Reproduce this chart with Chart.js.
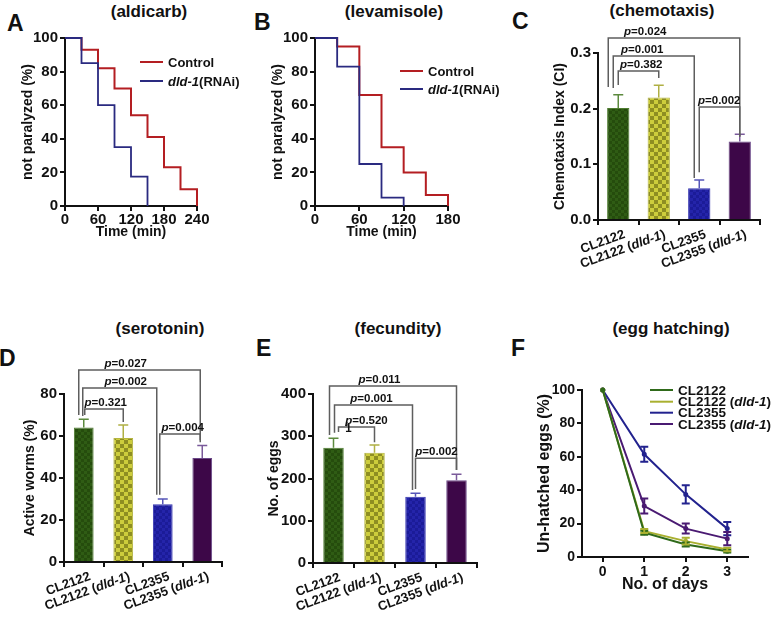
<!DOCTYPE html>
<html>
<head>
<meta charset="utf-8">
<script src="https://cdn.jsdelivr.net/npm/chart.js@4.4.1/dist/chart.umd.min.js"></script>
<style>
  body { margin: 0; background: #fff; width: 774px; height: 623px; position: relative; overflow: hidden;
         font-family: "Liberation Sans", Arial, sans-serif; }
  canvas { position: absolute; }
  .lbl { position: absolute; font-weight: bold; color: #111; white-space: nowrap; }
  .letter { font-size: 23px; line-height: 23px; }
  .ttl { font-size: 17px; line-height: 17px; transform: translateX(-50%); }
</style>
</head>
<body>
<div class="lbl letter" style="left:7px;top:12px">A</div>
<div class="lbl letter" style="left:254px;top:11px">B</div>
<div class="lbl letter" style="left:512px;top:10px">C</div>
<div class="lbl letter" style="left:-1px;top:347px">D</div>
<div class="lbl letter" style="left:256px;top:337px">E</div>
<div class="lbl letter" style="left:511px;top:337px">F</div>

<div class="lbl ttl" style="left:149px;top:3px">(aldicarb)</div>
<div class="lbl ttl" style="left:394px;top:3px">(levamisole)</div>
<div class="lbl ttl" style="left:662px;top:2px">(chemotaxis)</div>
<div class="lbl ttl" style="left:160px;top:320px">(serotonin)</div>
<div class="lbl ttl" style="left:398px;top:320px">(fecundity)</div>
<div class="lbl ttl" style="left:671px;top:320px">(egg hatching)</div>

<canvas id="chartA" width="250" height="250" style="left:0;top:0"></canvas>
<canvas id="chartB" width="250" height="250" style="left:250px;top:0"></canvas>
<canvas id="chartC" width="264" height="295" style="left:510px;top:0"></canvas>
<canvas id="chartD" width="250" height="323" style="left:0;top:300px"></canvas>
<canvas id="chartE" width="270" height="323" style="left:250px;top:300px"></canvas>
<canvas id="chartF" width="264" height="300" style="left:510px;top:300px"></canvas>

<script>
// paralysis curves (percent not paralyzed vs time in min)
const aldicarbTime = [0, 30, 60, 90, 120, 150, 180, 210, 240];
const aldicarbControl = [100, 93, 82, 70, 54, 41, 23, 10, 0];
const aldicarbRnaiTime = [0, 30, 60, 90, 120, 150];
const aldicarbRnai = [100, 85, 60, 35, 17.5, 0];
const levTime = [0, 30, 60, 90, 120, 150, 180];
const levControl = [100, 95, 66, 35, 20, 6.5, 0];
const levRnaiTime = [0, 30, 60, 90, 120];
const levRnai = [100, 83, 25, 5, 0];

// bar panels
const strains = ['CL2122', 'CL2122 (dld-1)', 'CL2355', 'CL2355 (dld-1)'];
const chemoMean = [0.201, 0.220, 0.057, 0.141];
const chemoErr = [0.024, 0.022, 0.015, 0.013];
const chemoP = ['0.024', '0.001', '0.382', '0.002'];
const seroMean = [64, 59, 27.5, 49.5];
const seroErr = [4, 6.2, 2.5, 6];
const seroP = ['0.027', '0.002', '0.321', '0.004'];
const eggMean = [273, 261, 157, 196];
const eggErr = [22, 18, 8, 14];
const eggP = ['0.011', '0.001', '0.520', '0.002'];

// egg hatching
const hatchDays = [0, 1, 2, 3];
const hatchCL2122 = [100, 14.5, 7.5, 3.5];
const hatchCL2122dld = [100, 15.5, 9.5, 4.5];
const hatchCL2355 = [100, 61.5, 37.5, 17];
const hatchCL2355dld = [100, 30.5, 17, 11];
const errCL2122 = [0, 1.2, 1.2, 0.8];
const errCL2122dld = [0, 1.2, 2, 1];
const errCL2355 = [0, 4.5, 5.5, 4];
const errCL2355dld = [0, 4.5, 3, 4];

const FONT = '"Liberation Sans", Arial, sans-serif';
Chart.defaults.font.family = FONT;
Chart.defaults.color = '#111';
Chart.defaults.animation = false;
Chart.defaults.responsive = false;
Chart.defaults.plugins.legend.display = false;
Chart.defaults.plugins.tooltip.enabled = false;

// draw text made of bold / bold-italic pieces
function richText(ctx, parts, x, y, size, align) {
    const fonts = parts.map(p => (p[1] ? 'italic ' : '') + 'bold ' + size + 'px ' + FONT);
    let total = 0;
    const widths = parts.map((p, i) => {
        ctx.font = fonts[i];
        const w = ctx.measureText(p[0]).width;
        total += w;
        return w;
    });
    let cx = align === 'right' ? x - total : align === 'center' ? x - total / 2 : x;
    ctx.textAlign = 'left';
    parts.forEach((p, i) => {
        ctx.font = fonts[i];
        ctx.fillText(p[0], cx, y);
        cx += widths[i];
    });
}

function splitDld(s) {
    const k = s.indexOf('dld-1');
    if (k < 0) return [[s, false]];
    return [[s.slice(0, k), false], ['dld-1', true], [s.slice(k + 5), false]];
}

function axis(o) {
    return {
        type: o.type || 'linear',
        min: o.min, max: o.max,
        z: 1,
        border: { color: '#111', width: 2 },
        grid: { display: true, drawOnChartArea: false, drawTicks: true, tickLength: 5, color: '#111', lineWidth: 2 },
        ticks: {
            font: { size: o.tickSize || 15, weight: 'bold' },
            color: o.hideLabels ? 'rgba(0,0,0,0)' : '#111',
            stepSize: o.step, padding: o.tickPad === undefined ? 2 : o.tickPad,
            maxRotation: 0, minRotation: 0, autoSkip: false,
            callback: o.fmt
        },
        title: {
            display: !!o.title, text: o.title, color: '#111',
            font: { size: o.titleSize || 14, weight: 'bold' },
            padding: o.titlePad || 0
        },
        afterBuildTicks: o.tickValues ? s => { s.ticks = o.tickValues.map(v => ({ value: v })); } : undefined,
        afterFit: s => { if (s.isHorizontal()) s.height = o.size; else s.width = o.size; }
    };
}

function drawLegend(ctx, items, x0, ys, lineLen, size) {
    items.forEach((it, i) => {
        const y = ys[i];
        ctx.strokeStyle = it.color;
        ctx.lineWidth = 2;
        ctx.beginPath();
        ctx.moveTo(x0, y);
        ctx.lineTo(x0 + lineLen, y);
        ctx.stroke();
        ctx.fillStyle = '#111';
        ctx.textBaseline = 'middle';
        richText(ctx, it.parts, x0 + lineLen + 5, y + 1, size, 'left');
    });
}

// ---------- A / B: step curves ----------
const RED = '#b41e22';
const NAVY = '#2a2a80';

function stepPanel(id, tC, vC, tR, vR, xMax, right, legendX, legendY) {
    new Chart(document.getElementById(id), {
        type: 'line',
        data: {
            datasets: [
                { data: tR.map((t, i) => ({ x: t, y: vR[i] })), borderColor: NAVY, borderWidth: 1.8, stepped: true, pointRadius: 0, clip: 4 },
                { data: tC.map((t, i) => ({ x: t, y: vC[i] })), borderColor: RED, borderWidth: 2, stepped: true, pointRadius: 0, clip: 4 }
            ]
        },
        options: {
            layout: { padding: { left: 0, top: 38, right: right, bottom: 0 } },
            scales: {
                x: axis({ min: 0, max: xMax, step: 60, size: 44, tickPad: 0, title: 'Time (min)', titlePad: { top: 0, bottom: 9.6 } }),
                y: axis({ min: 0, max: 100, step: 20, size: 65, title: 'not paralyzed (%)', titlePad: { top: 19.6, bottom: 0 } })
            }
        },
        plugins: [{
            id: 'legendAB',
            afterDraw(chart) {
                drawLegend(chart.ctx, [
                    { color: RED, parts: [['Control', false]] },
                    { color: NAVY, parts: splitDld('dld-1(RNAi)') }
                ], legendX, legendY, 23, 13);
            }
        }]
    });
}

stepPanel('chartA', aldicarbTime, aldicarbControl, aldicarbRnaiTime, aldicarbRnai, 240, 53, 140, [62, 81]);
stepPanel('chartB', levTime, levControl, levRnaiTime, levRnai, 180, 52, 150, [71, 89]);

// ---------- C / D / E: bar panels ----------
function checker(base, dot, cell) {
    const c = document.createElement('canvas');
    c.width = c.height = cell * 2;
    const g = c.getContext('2d');
    g.fillStyle = base;
    g.fillRect(0, 0, cell * 2, cell * 2);
    g.fillStyle = dot;
    g.fillRect(0, 0, cell, cell);
    g.fillRect(cell, cell, cell, cell);
    return g.createPattern(c, 'repeat');
}

const barFills = [
    checker('#2f5c14', '#254c0d', 3),
    checker('#cdcd3c', '#8e8e22', 4),
    checker('#1b1b98', '#2424aa', 3),
    '#3d0748'
];
const barEdges = ['#4f7d30', '#b5b540', '#3434b0', '#6a4888'];
const errColors = ['#5c8a3e', '#b0b044', '#5656b8', '#7a5a9a'];

function drawBarErrors(chart, means, errs) {
    const { ctx } = chart;
    const xs = chart.scales.x, ys = chart.scales.y;
    ctx.save();
    ctx.lineWidth = 1.5;
    means.forEach((m, i) => {
        const x = xs.getPixelForValue(i);
        const y0 = ys.getPixelForValue(m), y1 = ys.getPixelForValue(m + errs[i]);
        ctx.strokeStyle = errColors[i];
        ctx.beginPath();
        ctx.moveTo(x, y0);
        ctx.lineTo(x, y1);
        ctx.moveTo(x - 5, y1);
        ctx.lineTo(x + 5, y1);
        ctx.stroke();
    });
    ctx.restore();
}

function drawBrackets(chart, list, pVals) {
    const { ctx } = chart;
    const xs = chart.scales.x, ys = chart.scales.y;
    ctx.save();
    ctx.strokeStyle = '#5e5e5e';
    ctx.lineWidth = 1.5;
    list.forEach((b, i) => {
        const xa = xs.getPixelForValue(b.a) + b.da, xb = xs.getPixelForValue(b.b) + b.db;
        const yl = ys.getPixelForValue(b.level);
        ctx.beginPath();
        ctx.moveTo(xa, ys.getPixelForValue(b.legA));
        ctx.lineTo(xa, yl);
        ctx.lineTo(xb, yl);
        ctx.lineTo(xb, ys.getPixelForValue(b.legB));
        ctx.stroke();
        ctx.fillStyle = '#111';
        ctx.textBaseline = 'alphabetic';
        richText(ctx, [['p', true], ['=' + pVals[i], false]], xa + b.tx, yl - 3, 11.5, 'center');
        if (b.extra) richText(ctx, [[b.extra, false]], xa + 10, yl + 5, 11.5, 'center');
    });
    ctx.restore();
}

function drawRotatedLabels(chart) {
    const { ctx, chartArea } = chart;
    const xs = chart.scales.x;
    ctx.save();
    ctx.fillStyle = '#111';
    strains.forEach((s, i) => {
        ctx.save();
        ctx.translate(xs.getPixelForValue(i) + 4, chartArea.bottom + 8);
        ctx.rotate(-20 * Math.PI / 180);
        ctx.textBaseline = 'top';
        richText(ctx, splitDld(s), 0, 0, 13, 'right');
        ctx.restore();
    });
    ctx.restore();
}

function barPanel(id, means, errs, pVals, brackets, cfg) {
    new Chart(document.getElementById(id), {
        type: 'bar',
        data: {
            labels: strains,
            datasets: [{
                data: means, backgroundColor: barFills, borderColor: barEdges, borderWidth: 1,
                barPercentage: cfg.barPct, categoryPercentage: 1
            }]
        },
        options: {
            layout: { padding: { left: 0, top: cfg.top, right: cfg.right, bottom: 0 } },
            scales: {
                x: axis({ type: 'category', size: cfg.xSize, hideLabels: true, tickSize: 13 }),
                y: axis({
                    min: 0, max: cfg.yMax, step: cfg.yStep, size: cfg.ySize, fmt: cfg.fmt,
                    title: cfg.title, titlePad: { top: cfg.titlePad, bottom: 0 }
                })
            }
        },
        plugins: [{
            id: 'barExtras',
            afterDraw(chart) {
                drawBarErrors(chart, means, errs);
                drawBrackets(chart, brackets, pVals);
                drawRotatedLabels(chart);
            }
        }]
    });
}

barPanel('chartC', chemoMean, chemoErr, chemoP, [
    { a: 0, b: 3, da: -10, db: 0, level: 0.327, legA: 0.239, legB: 0.149, tx: 37 },
    { a: 0, b: 2, da: -5, db: -5, level: 0.2946, legA: 0.237, legB: 0.0754, tx: 29 },
    { a: 0, b: 1, da: 0, db: 0, level: 0.2677, legA: 0.2425, legB: 0.255, tx: 23 },
    { a: 2, b: 3, da: 0, db: 0, level: 0.203, legA: 0.086, legB: 0.151, tx: 20 }
], { top: 53, right: 14, xSize: 75, ySize: 88, yMax: 0.3, yStep: 0.1, fmt: v => v.toFixed(1),
     title: 'Chemotaxis Index (CI)', titlePad: 41.6, barPct: 0.55 });

barPanel('chartD', seroMean, seroErr, seroP, [
    { a: 0, b: 3, da: -5, db: -2, level: 91.4, legA: 70, legB: 58, tx: 47 },
    { a: 0, b: 2, da: -1, db: -6, level: 82.9, legA: 69.5, legB: 32, tx: 43 },
    { a: 0, b: 1, da: 1, db: 0, level: 72.9, legA: 70, legB: 66.7, tx: 21 },
    { a: 2, b: 3, da: -3, db: -2, level: 61, legA: 32, legB: 57, tx: 23 }
], { top: 94, right: 28, xSize: 61, ySize: 64, yMax: 80, yStep: 20,
     title: 'Active worms (%)', titlePad: 22, barPct: 0.5 });

barPanel('chartE', eggMean, eggErr, eggP, [
    { a: 0, b: 3, da: -4, db: 0, level: 419, legA: 303, legB: 220, tx: 50 },
    { a: 0, b: 2, da: 1, db: -3, level: 374, legA: 308, legB: 173, tx: 37 },
    { a: 0, b: 1, da: 5, db: 0, level: 322, legA: 310, legB: 286, tx: 28, extra: '1' },
    { a: 2, b: 3, da: 0, db: 0, level: 248, legA: 175, legB: 220, tx: 21 }
], { top: 94, right: 43, xSize: 60, ySize: 63, yMax: 400, yStep: 100,
     title: 'No. of eggs', titlePad: 15.6, barPct: 0.5 });

// ---------- F: egg hatching ----------
const hatchColors = ['#2f6a1a', '#a9b030', '#22228e', '#4a1a72'];
const hatchSeries = [hatchCL2122, hatchCL2122dld, hatchCL2355, hatchCL2355dld];
const hatchErrs = [errCL2122, errCL2122dld, errCL2355, errCL2355dld];

new Chart(document.getElementById('chartF'), {
    type: 'line',
    data: {
        datasets: hatchSeries.map((s, k) => ({
            data: hatchDays.map((d, i) => ({ x: d, y: s[i] })),
            borderColor: hatchColors[k], backgroundColor: hatchColors[k],
            borderWidth: 2, pointRadius: 1.5, clip: 4
        }))
    },
    options: {
        layout: { padding: { left: 0, top: 90, right: 26, bottom: 0 } },
        scales: {
            x: axis({ min: -0.5, max: 3.5, size: 43, tickSize: 14, tickValues: hatchDays,
                      title: 'No. of days', titleSize: 16, titlePad: { top: 0, bottom: 5.4 } }),
            y: axis({ min: 0, max: 100, step: 20, size: 72, tickSize: 14,
                      title: 'Un-hatched eggs (%)', titleSize: 16, titlePad: { top: 24.9, bottom: 0 } })
        }
    },
    plugins: [{
        id: 'hatchExtras',
        afterDraw(chart) {
            const { ctx } = chart;
            const xs = chart.scales.x, ys = chart.scales.y;
            ctx.save();
            ctx.lineWidth = 2;
            hatchSeries.forEach((s, k) => {
                ctx.strokeStyle = hatchColors[k];
                s.forEach((v, i) => {
                    const e = hatchErrs[k][i];
                    if (!e) return;
                    const x = xs.getPixelForValue(hatchDays[i]);
                    const y0 = ys.getPixelForValue(v - e), y1 = ys.getPixelForValue(v + e);
                    ctx.beginPath();
                    ctx.moveTo(x, y0); ctx.lineTo(x, y1);
                    ctx.moveTo(x - 4, y0); ctx.lineTo(x + 4, y0);
                    ctx.moveTo(x - 4, y1); ctx.lineTo(x + 4, y1);
                    ctx.stroke();
                });
            });
            ctx.restore();
            drawLegend(ctx, strains.map((s, k) => ({ color: hatchColors[k], parts: splitDld(s) })),
                       140, [90, 101.7, 112.7, 124], 23, 13.5);
        }
    }]
});
</script>
</body>
</html>
